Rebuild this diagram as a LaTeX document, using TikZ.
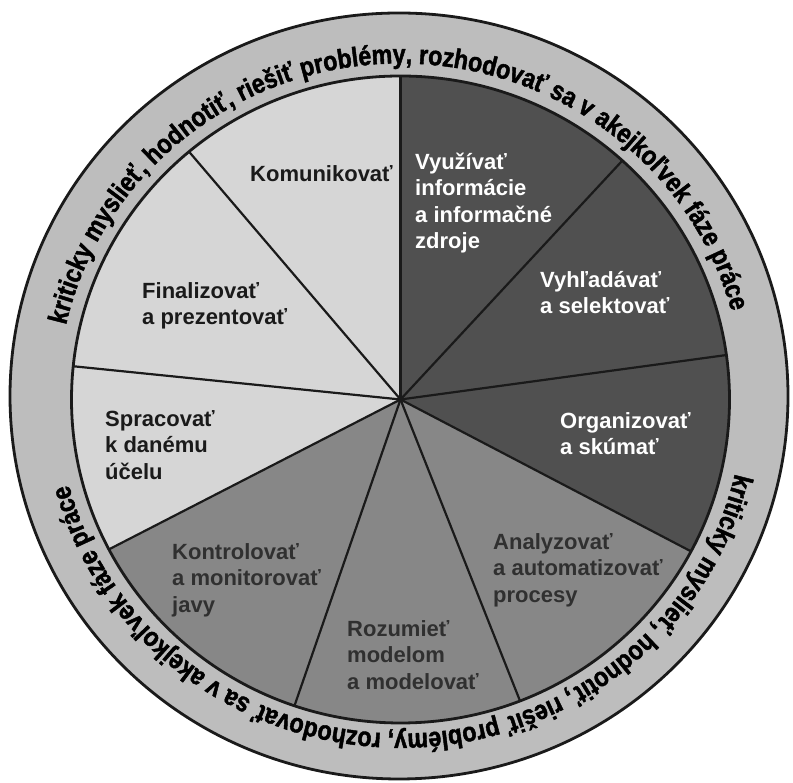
\documentclass[tikz,border=0pt]{standalone}
\usepackage{fontspec}
\setmainfont{Liberation Sans}
\newfontfamily\ringfont[FakeStretch=0.86, FakeBold=1.6]{Liberation Sans Bold}
\usetikzlibrary{decorations.text}

\definecolor{ringgray}{HTML}{BDBDBD}
\definecolor{lightsec}{HTML}{D6D6D6}
\definecolor{midsec}{HTML}{878787}
\definecolor{darksec}{HTML}{505050}
\definecolor{midtext}{HTML}{303030}
\definecolor{inkline}{HTML}{1A1A1A}

% one wedge of the inner disc: colour, start angle, end angle
\newcommand\pieslice[3]{%
  \fill[#1] (0,0) -- (#2:329pt and 323.5pt)
    arc[start angle=#2, end angle=#3, x radius=329pt, y radius=323.5pt] -- cycle;}
% strut fixing the height of the first line of every label
\newcommand\firstline{\rule{0pt}{17pt}}
\newcommand\ringstyle{\ringfont\fontsize{27}{30}\selectfont}

\begin{document}
\begin{tikzpicture}[x=1pt,y=1pt,
  edge/.style={line width=2.2pt, inkline},
  rim/.style={line width=2.8pt, inkline},
  lbl/.style={anchor=north west, align=left, inner sep=0pt,
    font=\bfseries\fontsize{22}{26.5}\selectfont},
  onlight/.style={lbl, text=inkline},
  onmid/.style={lbl, text=midtext},
  ondark/.style={lbl, text=white},
  ringtext/.style={decorate, decoration={text along path, text align=center,
    text={#1}}},
]
\useasboundingbox (0,0) rectangle (793,783);
\coordinate (oc) at (399,387);
\coordinate (ic) at (400.5,383.5);

% outer ring
\fill[ringgray] (oc) ellipse [x radius=389pt, y radius=383pt];
\draw[rim] (oc) ellipse [x radius=389pt, y radius=383pt];

\begin{scope}[shift={(ic)}]
  % wedges, counter-clockwise
  \pieslice{darksec}{-28}{7.9}
  \pieslice{darksec}{7.9}{47.6}
  \pieslice{darksec}{47.6}{90}
  \pieslice{lightsec}{90}{130}
  \pieslice{lightsec}{130}{174.1}
  \pieslice{lightsec}{174.1}{207.6}
  \pieslice{midsec}{207.6}{251.2}
  \pieslice{midsec}{251.2}{291.3}
  \pieslice{midsec}{291.3}{332}
  % dividing lines
  \foreach \a in {90,47.6,7.9,-28,-68.7,-108.8,-152.4,174.1,130}
    \draw[edge] (0,0) -- (\a:329pt and 323.5pt);
  % rim of the disc
  \draw[rim] (0,0) ellipse [x radius=329pt, y radius=323.5pt];
\end{scope}

% text running round the ring, set in the ring font
\begin{scope}[shift={(ic)}]
  \ringstyle
  \path[ringtext={kriticky myslieť, hodnotiť, riešiť problémy, rozhodovať sa v akejkoľvek fáze práce}]
    (170.2:343pt and 336pt) arc[start angle=170.2, end angle=12.2, x radius=343pt, y radius=336pt];
  \path[ringtext={kriticky myslieť, hodnotiť, riešiť problémy, rozhodovať sa v akejkoľvek fáze práce}]
    (-10:343pt and 334pt) arc[start angle=-10, end angle=-168, x radius=343pt, y radius=334pt];
\end{scope}

% labels of the wedges
\node[onlight] (komunikovat) at (250,619) {\firstline Komunikovať};
\node[ondark] (vyuzivat) at (415,631) {\firstline Využívať\\informácie\\a informačné\\zdroje};
\node[ondark] (vyhladavat) at (540,513) {\firstline Vyhľadávať\\a selektovať};
\node[ondark] (organizovat) at (560,372) {\firstline Organizovať\\a skúmať};
\node[onmid] (analyzovat) at (493,251) {\firstline Analyzovať\\a automatizovať\\procesy};
\node[onmid] (rozumiet) at (347,164) {\firstline Rozumieť\\modelom\\a modelovať};
\node[onmid] (kontrolovat) at (172,241) {\firstline Kontrolovať\\a monitorovať\\javy};
\node[onlight] (spracovat) at (105,374) {\firstline Spracovať\\k danému\\účelu};
\node[onlight] (finalizovat) at (142,502) {\firstline Finalizovať\\a prezentovať};
\end{tikzpicture}
\end{document}
